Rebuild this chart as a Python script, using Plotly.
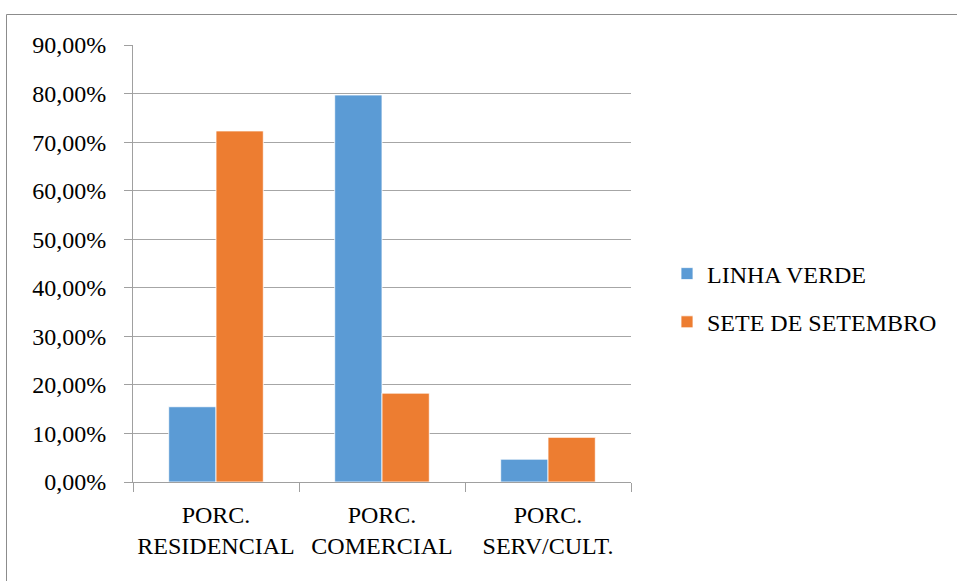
import plotly.graph_objects as go

categories = ["PORC.<br>RESIDENCIAL", "PORC.<br>COMERCIAL", "PORC.<br>SERV/CULT."]
linha_verde = [0.155, 0.797, 0.047]
sete_de_setembro = [0.723, 0.183, 0.092]
series_names = ["LINHA VERDE", "SETE DE SETEMBRO"]
colors = ["#5B9BD5", "#ED7D31"]

W, H = 957, 581
L, R, T, B = 133, 631, 45, 482  # plot area in pixels

def px_x(p):
    return (p - L) / (R - L)

def px_y(p):
    return (B - p) / (B - T)

FONT = "Liberation Serif, Times New Roman, serif"
FS = 24

fig = go.Figure()
for i, (name, vals) in enumerate(zip(series_names, [linha_verde, sete_de_setembro])):
    fig.add_trace(go.Bar(
        x=categories, y=vals, name=name, legendgroup=name,
        marker=dict(color=colors[i], line=dict(color="white", width=0.8)),
    ))

fig.update_layout(
    width=W, height=H,
    margin=dict(l=L, r=W - R, t=T, b=H - B, pad=0, autoexpand=False),
    paper_bgcolor="white", plot_bgcolor="white",
    font=dict(family=FONT, size=FS, color="black"),
    separators=",.",
    barmode="group", bargap=0.43, bargroupgap=0,
    showlegend=True,
    legend=dict(
        x=px_x(667), xanchor="left", xref="paper",
        y=px_y(298), yanchor="middle", yref="paper",
        font=dict(family=FONT, size=FS, color="black"),
        traceorder="grouped", tracegroupgap=14,
        bgcolor="rgba(0,0,0,0)",
    ),
    xaxis=dict(
        type="category", showgrid=False, showline=True, linecolor="#a0a0a0", linewidth=1,
        ticks="outside", tickson="boundaries", ticklen=9, tickcolor="#a0a0a0",
        ticklabelstandoff=11, tickfont=dict(family=FONT, size=FS),
        tickangle=0, automargin=False,
    ),
    yaxis=dict(
        range=[0, 0.9], dtick=0.1, tickformat=".2%",
        showgrid=True, gridcolor="#a6a6a6", gridwidth=1,
        showline=True, linecolor="#a0a0a0", linewidth=1,
        ticks="outside", ticklen=8, tickcolor="#a0a0a0",
        ticklabelstandoff=13, tickfont=dict(family=FONT, size=FS),
        zeroline=False, automargin=False,
    ),
    shapes=[dict(
        type="rect", xref="paper", yref="paper",
        x0=px_x(6.5), x1=px_x(965), y0=px_y(14.5), y1=px_y(600),
        line=dict(color="#8c8c8c", width=1), fillcolor="rgba(0,0,0,0)", layer="below",
    )],
)

fig.write_html("out.html")
